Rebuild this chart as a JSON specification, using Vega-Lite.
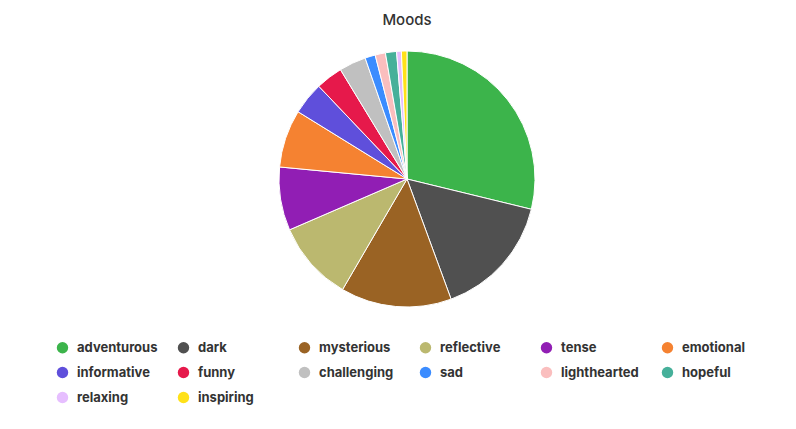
{
  "$schema": "https://vega.github.io/schema/vega-lite/v6.json",
  "autosize": "none",
  "width": 778,
  "height": 256,
  "padding": {"left": 18, "top": 51, "right": 0, "bottom": 122},
  "background": "white",
  "title": {
    "text": "Moods",
    "anchor": "middle",
    "font": "Inter",
    "fontSize": 15,
    "fontWeight": 500,
    "color": "#333333",
    "offset": 21
  },
  "data": {
    "values": [
      {"mood": "adventurous", "share": 28.8, "rank": 1},
      {"mood": "dark", "share": 15.6, "rank": 2},
      {"mood": "mysterious", "share": 14.0, "rank": 3},
      {"mood": "reflective", "share": 10.1, "rank": 4},
      {"mood": "tense", "share": 8.0, "rank": 5},
      {"mood": "emotional", "share": 7.3, "rank": 6},
      {"mood": "informative", "share": 4.1, "rank": 7},
      {"mood": "funny", "share": 3.4, "rank": 8},
      {"mood": "challenging", "share": 3.4, "rank": 9},
      {"mood": "sad", "share": 1.3, "rank": 10},
      {"mood": "lighthearted", "share": 1.3, "rank": 11},
      {"mood": "hopeful", "share": 1.4, "rank": 12},
      {"mood": "relaxing", "share": 0.6, "rank": 13},
      {"mood": "inspiring", "share": 0.7, "rank": 14}
    ]
  },
  "mark": {"type": "arc", "outerRadius": 128, "stroke": "white", "strokeWidth": 1},
  "encoding": {
    "theta": {"field": "share", "type": "quantitative", "stack": true},
    "order": {"field": "rank", "type": "quantitative"},
    "color": {
      "field": "mood",
      "type": "nominal",
      "scale": {
        "domain": ["adventurous", "dark", "mysterious", "reflective", "tense", "emotional", "informative", "funny", "challenging", "sad", "lighthearted", "hopeful", "relaxing", "inspiring"],
        "range": ["#3cb44b", "#505050", "#9a6324", "#bbb86f", "#911eb4", "#f58231", "#5f4fdb", "#e6194b", "#c0c0c0", "#3b8cff", "#fabebe", "#46b09a", "#e6beff", "#ffe119"]
      },
      "legend": {
        "title": null,
        "orient": "none",
        "legendX": 38,
        "legendY": 290,
        "direction": "horizontal",
        "columns": 6,
        "gridAlign": "all",
        "columnPadding": 19,
        "rowPadding": 11,
        "symbolType": "circle",
        "symbolSize": 130,
        "symbolStrokeWidth": 0,
        "labelFont": "Inter",
        "labelFontSize": 13,
        "labelFontWeight": "bold",
        "labelColor": "#333333",
        "labelOffset": 8
      }
    },
    "tooltip": [{"field": "mood"}, {"field": "share"}]
  },
  "view": {"stroke": null}
}
